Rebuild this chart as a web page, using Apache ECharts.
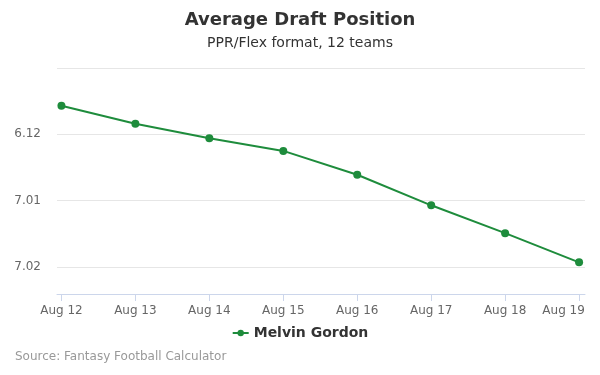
<!DOCTYPE html>
<html>
<head>
<meta charset="utf-8">
<title>Average Draft Position</title>
<script src="https://cdn.jsdelivr.net/npm/echarts@6/dist/echarts.min.js"></script>
<style>
  html, body { margin: 0; padding: 0; background: #fff; }
  #chart { width: 600px; height: 375px; }
</style>
</head>
<body>
<div id="chart"></div>
<script>
// chart data
var dates = ['Aug 12', 'Aug 13', 'Aug 14', 'Aug 15', 'Aug 16', 'Aug 17', 'Aug 18', 'Aug 19']
var adp = [71.57, 71.84, 72.06, 72.25, 72.61, 73.07, 73.49, 73.93] // overall pick number
var yTicks = [71, 72, 73, 74]
var teams = 12

function pickLabel(v) {
  var round = Math.floor((v - 1) / teams) + 1
  var pick = (v - 1) % teams + 1
  return round + '.' + (pick < 10 ? '0' + pick : pick)
}

var idx = dates.map(function (d, i) { return i })
var chart = echarts.init(document.getElementById('chart'))

chart.setOption({
  animation: false,
  textStyle: { fontFamily: 'DejaVu Sans' },
  title: [
    {
      text: 'Average Draft Position',
      left: 'center',
      top: 6,
      textStyle: { fontSize: 18, fontWeight: 'bold', color: '#333333' }
    },
    {
      text: 'PPR/Flex format, 12 teams',
      left: 'center',
      top: 31,
      textStyle: { fontSize: 14, fontWeight: 'normal', color: '#333333' }
    },
    {
      text: 'Source: Fantasy Football Calculator',
      left: 10,
      top: 346,
      textStyle: { fontSize: 12, fontWeight: 'normal', color: '#999999' }
    }
  ],
  legend: {
    top: 321,
    left: 'center',
    itemWidth: 16,
    itemHeight: 8,
    itemGap: 6,
    data: ['Melvin Gordon'],
    textStyle: { fontSize: 14, fontWeight: 'bold', color: '#333333' }
  },
  grid: {
    left: 57,
    right: 15,
    top: 68,
    bottom: 108,
    containLabel: false,
    outerBoundsMode: 'none'
  },
  xAxis: {
    type: 'value',
    min: -0.06,
    max: 7.08,
    offset: 27,
    axisLine: { show: true, lineStyle: { color: '#ccd6eb', width: 1 } },
    axisTick: {
      show: true,
      customValues: idx,
      length: 7,
      lineStyle: { color: '#ccd6eb' }
    },
    axisLabel: {
      customValues: idx,
      color: '#666666',
      fontSize: 12,
      margin: 11,
      hideOverlap: false,
      formatter: function (v) {
        var i = Math.round(v)
        // last label is pushed left to stay inside the chart
        return i === dates.length - 1 ? '{last|' + dates[i] + '}' : dates[i]
      },
      rich: {
        last: { color: '#666666', fontSize: 12, padding: [0, 31, 0, 0] }
      }
    },
    splitLine: { show: false }
  },
  yAxis: {
    type: 'value',
    inverse: true,
    min: yTicks[0],
    max: yTicks[yTicks.length - 1],
    interval: 1,
    axisLine: { show: false },
    axisTick: { show: false },
    axisLabel: {
      color: '#666666',
      fontSize: 12,
      margin: 16,
      padding: [4, 0, 0, 0],
      showMinLabel: false,
      formatter: function (v) { return pickLabel(v) }
    },
    splitLine: { lineStyle: { color: '#e6e6e6', width: 1 } }
  },
  series: [
    {
      name: 'Melvin Gordon',
      type: 'line',
      data: adp.map(function (v, i) { return [idx[i], v] }),
      symbol: 'circle',
      symbolSize: 8,
      itemStyle: { color: '#1e8c3c' },
      lineStyle: { color: '#1e8c3c', width: 2 }
    }
  ]
})
</script>
</body>
</html>
